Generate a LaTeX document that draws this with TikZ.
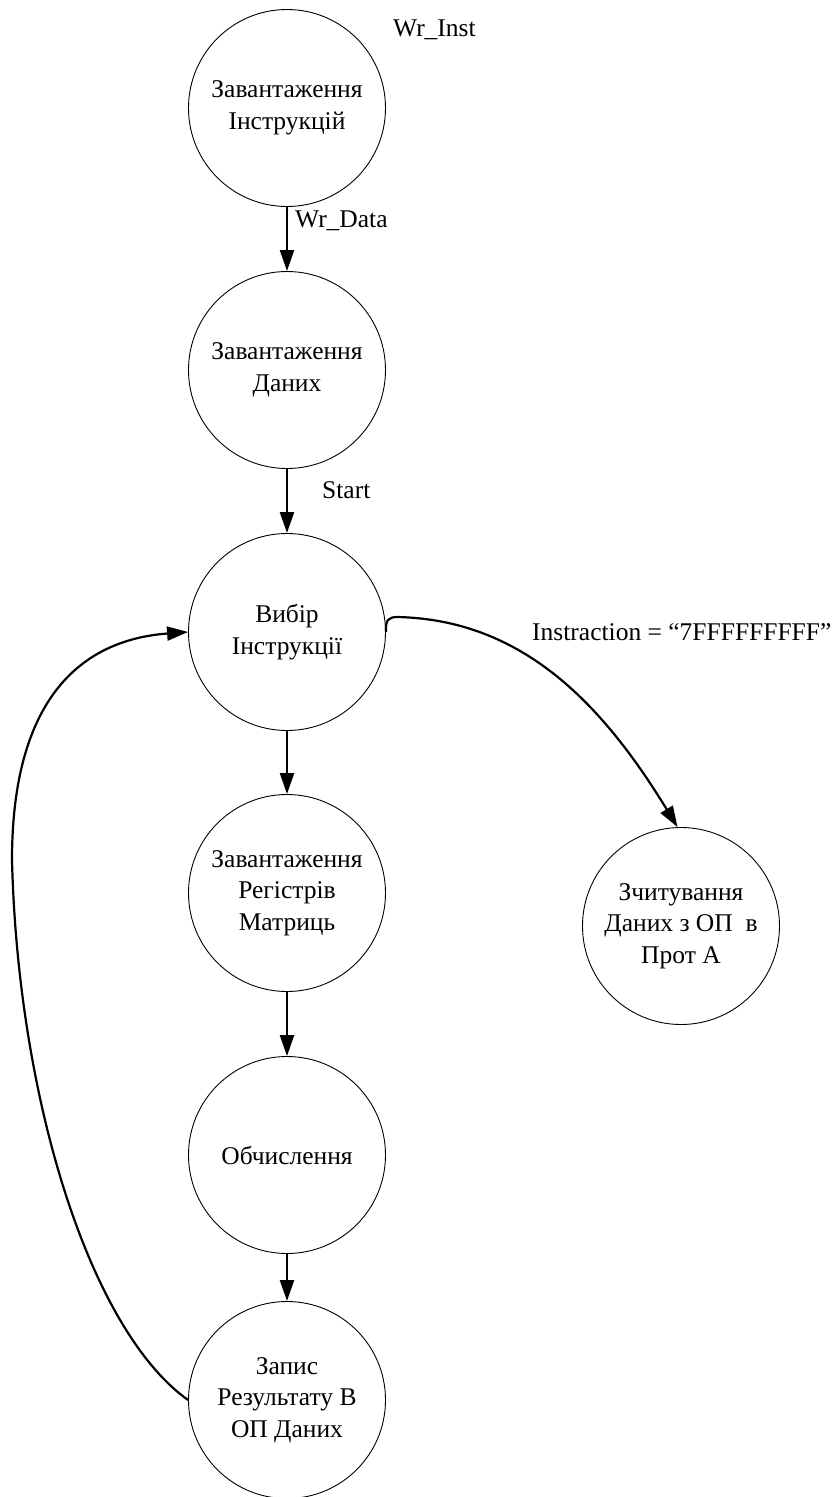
\documentclass[tikz,border=0pt]{standalone}
\usepackage{fontspec}
\setmainfont{Liberation Serif}
\usetikzlibrary{arrows.meta}

\begin{document}
\begin{tikzpicture}[x=1pt, y=-1pt,
  state/.style={circle, draw, line width=0.9pt, minimum size=197pt, inner sep=0pt,
                align=center, font=\fontsize{25.5}{31.5}\selectfont},
  lbl/.style={anchor=base west, inner sep=0pt, font=\fontsize{25.5}{30}\selectfont},
  trans/.style={line width=2.2pt, -{Triangle[length=21pt, width=14pt]}}]

  \useasboundingbox (0,0) rectangle (833,1497);

  % states of the control automaton
  \node[state] (c1) at (287,108)  {Завантаження\\Інструкцій};
  \node[state] (c2) at (287,370)  {Завантаження\\Даних};
  \node[state] (c3) at (287,632)  {Вибір\\Інструкції};
  \node[state] (c4) at (287,893)  {Завантаження\\Регістрів\\Матриць};
  \node[state] (c5) at (287,1155) {Обчислення};
  \node[state] (c6) at (287,1400) {Запис\\Результату В\\ОП Даних};
  \node[state] (c7) at (681,926)  {Зчитування\\Даних з ОП~~в\\Прот А};

  % transition labels
  \node[lbl] (lInst)  at (393,36)  {Wr\_Inst};
  \node[lbl] (lData)  at (295,227) {Wr\_Data};
  \node[lbl] (lStart) at (322,498) {Start};
  \node[lbl] (lEnd)   at (532,640) {Instraction = “7FFFFFFFFF”};

  % main sequence
  \draw[trans] (c1.south) -- (c2.north);
  \draw[trans] (c2.south) -- (c3.north);
  \draw[trans] (c3.south) -- (c4.north);
  \draw[trans] (c4.south) -- (c5.north);
  \draw[trans] (c5.south) -- (c6.north);

  % loop back to instruction fetch
  \draw[trans] (c6.west) .. controls (90,1330) and (18,1100) .. (12,860)
                         .. controls (12,700) and (80,640) .. (c3.west);

  % exit on the stop instruction
  \draw[trans] (c3.east) .. controls (385.5,620) and (388,617) .. (398,617)
                         .. controls (520,620) and (600,700) .. (c7.92);
\end{tikzpicture}
\end{document}
